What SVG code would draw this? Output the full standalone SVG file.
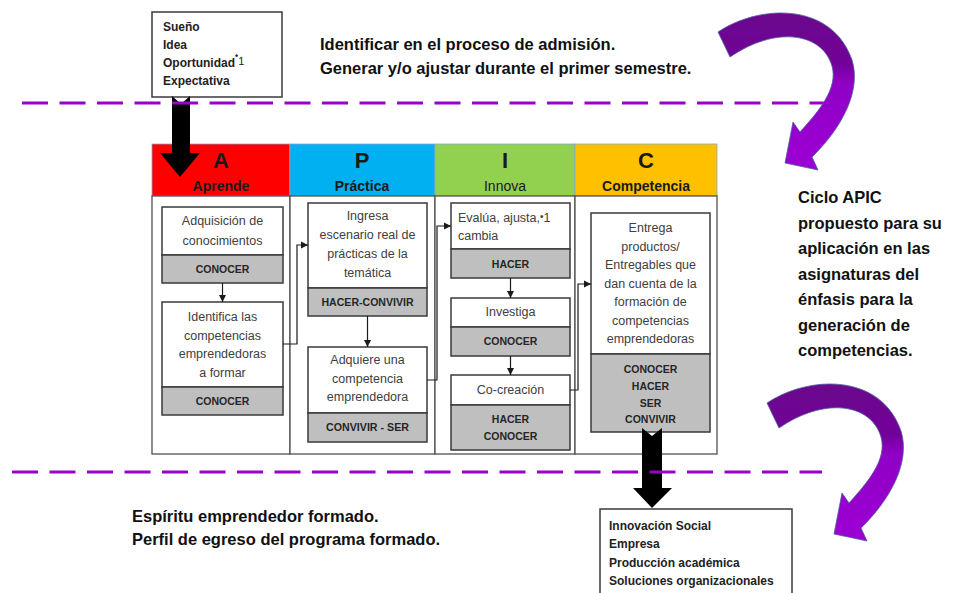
<svg xmlns="http://www.w3.org/2000/svg" width="957" height="593" viewBox="0 0 957 593">
<defs>
<marker id="ah" markerWidth="8" markerHeight="8" refX="7" refY="4" orient="auto" markerUnits="userSpaceOnUse">
<path d="M0,0.5 L7,4 L0,7.5 Z" fill="#1a1a1a"/>
</marker>
<linearGradient id="pg" x1="0" y1="0" x2="0" y2="1">
<stop offset="0" stop-color="#6a0a8c"/>
<stop offset="0.32" stop-color="#720098"/>
<stop offset="0.45" stop-color="#9000c6"/>
<stop offset="1" stop-color="#9c00d4"/>
</linearGradient>
<path id="curl" d="M718,32 C760,4 832,2 852,60 C862,92 840,130 812,157 L818,170 L785,163 L793,122 L800,132 C820,110 838,88 832,66 C822,32 775,26 730,57 Z" fill="url(#pg)" stroke="#4d5fa0" stroke-width="0.8"/>
</defs>
<style>
text{font-family:"Liberation Sans",Arial,sans-serif}
.big{font-size:16.5px;font-weight:bold;fill:#111}
.lst{font-size:12px;font-weight:bold;fill:#222}
.box{fill:#fff;stroke:#3a3a3a;stroke-width:1.5}
.gray{fill:#bfbfbf;stroke:#3a3a3a;stroke-width:1.5}
.t{font-size:12.5px;fill:#404040;text-anchor:middle}
.tl{font-size:12.5px;fill:#404040;text-anchor:start}
.g{font-size:10.5px;font-weight:bold;fill:#262626;text-anchor:middle}
.hl{font-size:22px;font-weight:bold;fill:#1a1a1a;text-anchor:middle}
.hs{font-size:14px;font-weight:bold;fill:#1a1a1a;text-anchor:middle}
.hn{font-size:14px;font-weight:normal;fill:#1a1a1a;text-anchor:middle}
.hd{stroke:#86a8c8;stroke-width:0.8}
.col{fill:#fff;stroke:#505050;stroke-width:1.3}
.cn{fill:none;stroke:#1a1a1a;stroke-width:1.2;marker-end:url(#ah)}
.dash{stroke:#9900cc;stroke-width:3;stroke-dasharray:26 11.5;fill:none}
.blk{fill:#000}
</style>

<rect width="957" height="593" fill="#fff"/>

<!-- table header and columns -->
<g id="header">
<rect x="152" y="144" width="138" height="52" fill="#ff0000" class="hd"/>
<rect x="290" y="144" width="145" height="52" fill="#00b0f0" class="hd"/>
<rect x="435" y="144" width="140" height="52" fill="#92d050" class="hd"/>
<rect x="575" y="144" width="142" height="52" fill="#ffc000" class="hd"/>
<text class="hl" x="221" y="168">A</text>
<text class="hs" x="221" y="191">Aprende</text>
<text class="hl" x="362" y="168">P</text>
<text class="hs" x="362" y="191">Práctica</text>
<text class="hl" x="505" y="168">I</text>
<text class="hn" x="505" y="191">Innova</text>
<text class="hl" x="646" y="168">C</text>
<text class="hs" x="646" y="191">Competencia</text>
</g>
<g id="columns">
<rect class="col" x="152" y="196" width="138" height="258"/>
<rect class="col" x="290" y="196" width="145" height="258"/>
<rect class="col" x="435" y="196" width="140" height="258"/>
<rect class="col" x="575" y="196" width="142" height="258"/>
</g>

<!-- top box -->
<g id="inicio">
<rect x="152" y="12" width="130" height="85" fill="#fff" stroke="#3a3a3a" stroke-width="1.5"/>
<text class="lst" x="163" y="31">Sueño</text>
<text class="lst" x="163" y="49">Idea</text>
<text class="lst" x="163" y="67">Oportunidad<tspan style="font-size:9px" dy="-8">•</tspan><tspan style="font-size:11px;font-weight:normal" dy="6">1</tspan></text>
<text class="lst" x="163" y="85">Expectativa</text>
</g>

<!-- A column -->
<g id="a1">
<rect class="box" x="162" y="207" width="121" height="48"/>
<rect class="gray" x="162" y="255" width="121" height="28"/>
<text class="t" x="222.5" y="225">Adquisición de</text>
<text class="t" x="222.5" y="245">conocimientos</text>
<text class="g" x="222.5" y="273">CONOCER</text>
</g>
<g id="a2">
<rect class="box" x="162" y="302" width="121" height="85"/>
<rect class="gray" x="162" y="387" width="121" height="28"/>
<text class="t" x="222.5" y="321">Identifica las</text>
<text class="t" x="222.5" y="339.5">competencias</text>
<text class="t" x="222.5" y="358">emprendedoras</text>
<text class="t" x="222.5" y="376.5">a formar</text>
<text class="g" x="222.5" y="405">CONOCER</text>
</g>

<!-- P column -->
<g id="p1">
<rect class="box" x="308" y="203" width="119" height="85"/>
<rect class="gray" x="308" y="288" width="119" height="28"/>
<text class="t" x="367.5" y="220">Ingresa</text>
<text class="t" x="367.5" y="239">escenario real de</text>
<text class="t" x="367.5" y="258">prácticas de la</text>
<text class="t" x="367.5" y="277">temática</text>
<text class="g" x="367.5" y="306" textLength="92" lengthAdjust="spacingAndGlyphs">HACER-CONVIVIR</text>
</g>
<g id="p2">
<rect class="box" x="308" y="347" width="119" height="66"/>
<rect class="gray" x="308" y="413" width="119" height="29"/>
<text class="t" x="367.5" y="364">Adquiere una</text>
<text class="t" x="367.5" y="383">competencia</text>
<text class="t" x="367.5" y="401">emprendedora</text>
<text class="g" x="367.5" y="431" textLength="83" lengthAdjust="spacingAndGlyphs">CONVIVIR - SER</text>
</g>

<!-- I column -->
<g id="i1">
<rect class="box" x="451" y="203" width="119" height="46"/>
<rect class="gray" x="451" y="249" width="119" height="29"/>
<text class="tl" x="458" y="222">Evalúa, ajusta,<tspan style="font-size:10px" dy="-2">•</tspan><tspan dy="2">1</tspan></text>
<text class="tl" x="458" y="240">cambia</text>
<text class="g" x="510.5" y="268">HACER</text>
</g>
<g id="i2">
<rect class="box" x="451" y="298" width="119" height="29"/>
<rect class="gray" x="451" y="327" width="119" height="29"/>
<text class="t" x="510.5" y="316">Investiga</text>
<text class="g" x="510.5" y="345">CONOCER</text>
</g>
<g id="i3">
<rect class="box" x="451" y="375" width="119" height="30"/>
<rect class="gray" x="451" y="405" width="119" height="45"/>
<text class="t" x="510.5" y="394">Co-creación</text>
<text class="g" x="510.5" y="423">HACER</text>
<text class="g" x="510.5" y="440">CONOCER</text>
</g>

<!-- C column -->
<g id="c1">
<rect class="box" x="591" y="213" width="119" height="141"/>
<rect class="gray" x="591" y="354" width="119" height="78"/>
<text class="t" x="650.5" y="232">Entrega</text>
<text class="t" x="650.5" y="250.5">productos/</text>
<text class="t" x="650.5" y="269">Entregables que</text>
<text class="t" x="650.5" y="287.5">dan cuenta de la</text>
<text class="t" x="650.5" y="306">formación de</text>
<text class="t" x="650.5" y="324.5">competencias</text>
<text class="t" x="650.5" y="343">emprendedoras</text>
<text class="g" x="650.5" y="373">CONOCER</text>
<text class="g" x="650.5" y="390">HACER</text>
<text class="g" x="650.5" y="407">SER</text>
<text class="g" x="650.5" y="423">CONVIVIR</text>
</g>

<!-- bottom box -->
<g id="resultados">
<rect x="600" y="509" width="192" height="90" fill="#fff" stroke="#3a3a3a" stroke-width="1.5"/>
<text class="lst" x="609" y="530">Innovación Social</text>
<text class="lst" x="609" y="548">Empresa</text>
<text class="lst" x="609" y="566.5">Producción académica</text>
<text class="lst" x="609" y="585">Soluciones organizacionales</text>
</g>

<!-- free texts -->
<g id="textos">
<text class="big" x="320" y="50">Identificar en el proceso de admisión.</text>
<text class="big" x="320" y="74">Generar y/o ajustar durante el primer semestre.</text>
<text class="big" x="798" y="203">Ciclo APIC</text>
<text class="big" x="798" y="228.5">propuesto para su</text>
<text class="big" x="798" y="254">aplicación en las</text>
<text class="big" x="798" y="279.5">asignaturas del</text>
<text class="big" x="798" y="305">énfasis para la</text>
<text class="big" x="798" y="330.5">generación de</text>
<text class="big" x="798" y="356">competencias.</text>
<text class="big" x="132" y="522">Espíritu emprendedor formado.</text>
<text class="big" x="132" y="545">Perfil de egreso del programa formado.</text>
</g>

<!-- connectors -->
<g id="connectors">
<path class="cn" d="M222.5,283 V302"/>
<path class="cn" d="M367.5,316 V347"/>
<path class="cn" d="M510.5,278 V298"/>
<path class="cn" d="M510.5,356 V375"/>
<path class="cn" d="M283,344 H297 V245 H308"/>
<path class="cn" d="M427,380 H437 V226 H451"/>
<path class="cn" d="M570,390 H578 V284 H591"/>
<path class="blk" d="M172,96 L181,104 L190,96 L190,153 L200,153 L180,177 L160,153 L172,153 Z"/>
<path class="blk" d="M642,428 L652,436 L662,428 L662,488 L672,488 L652,508 L633,488 L642,488 Z"/>
</g>

<!-- dashed separators -->
<g id="separadores">
<line class="dash" x1="22" y1="103" x2="830" y2="103"/>
<line class="dash" x1="12" y1="472" x2="822" y2="472"/>
</g>

<!-- curved purple arrows -->
<g id="flechas-ciclo">
<use href="#curl"/>
<use href="#curl" transform="translate(49,371)"/>
</g>
</svg>
